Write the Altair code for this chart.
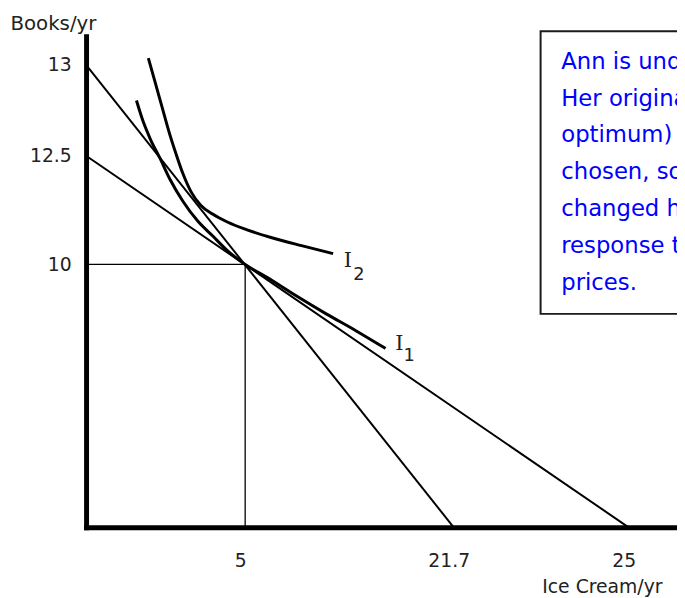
import altair as alt
import pandas as pd

# ---- values (data units) ----
x_ticks = [5, 21.7, 25]
y_ticks = [10, 12.5, 13]

budget_a_x = [0, 21.7]
budget_a_y = [13, 0]
budget_b_x = [0, 25]
budget_b_y = [12.5, 0]

opt_x = 5
opt_y = 10

i1_x = [1.584, 1.801, 2.019, 2.329, 2.640, 3.043, 3.509, 3.975, 4.441, 5.0,
        6.741, 9.116, 11.490, 13.864, 16.239]
i1_y = [12.804, 12.685, 12.592, 12.432, 11.955, 11.455, 11.0, 10.659, 10.318, 10.0,
        9.511, 8.797, 8.120, 7.481, 6.805]

i2_x = [1.957, 2.174, 2.391, 2.609, 2.826, 3.043, 3.292, 3.602, 3.975, 4.441,
        5.158, 7.137, 9.511, 12.044]
i2_y = [13.038, 12.902, 12.766, 12.630, 12.511, 12.091, 11.682, 11.364, 11.159, 10.977,
        10.795, 10.614, 10.432, 10.25]

curve_names = ["I", "I"]
curve_subs = ["1", "2"]
name_x = [17.35, 13.23]
name_y = [6.99, 10.07]
sub_x = [18.14, 14.10]
sub_y = [6.50, 9.59]

note_lines = [
    "Ann is undoubtedly better off.",
    "Her original bundle (the old",
    "optimum) is no longer",
    "chosen, so she has",
    "changed her choice in",
    "response to the new",
    "prices.",
]
note_x = 23.73
note_y = 13.078
box_x = [23.34, 27.5]
box_y = [13.188, 8.12]

# ---- scales (schematic axis: piecewise linear) ----
xs = alt.Scale(domain=[0, 5, 21.7, 25, 27], range=[0, 161, 372, 549, 598], nice=False, zero=False)
ys = alt.Scale(domain=[0, 10, 12.5, 13, 13.16], range=[522, 256, 146, 54, 25], nice=False, zero=False)

FONT = "DejaVu Sans"

x_axis = alt.Axis(values=x_ticks, format=".1~f", grid=False, ticks=False, tickSize=0,
                  domainWidth=5, domainColor="black", domainCap="square",
                  labelFont=FONT, labelFontSize=19, labelColor="#222", labelPadding=25,
                  labelOffset=-5, title="Ice Cream/yr", titleFont=FONT, titleFontSize=19,
                  titleFontWeight="normal", titleColor="#222", titleX=522, titleY=60,
                  titleAlign="center", titleBaseline="middle")
y_axis = alt.Axis(values=y_ticks, format=".1~f", grid=False, ticks=False, tickSize=0,
                  domainWidth=5, domainColor="black", domainCap="square",
                  labelFont=FONT, labelFontSize=19, labelColor="#222", labelPadding=15,
                  title="Books/yr", titleFont=FONT, titleFontSize=20, titleFontWeight="normal",
                  titleColor="#222", titleAngle=0, titleX=-77, titleY=12,
                  titleAlign="left", titleBaseline="middle")

X = alt.X("x:Q", scale=xs, axis=x_axis)
Y = alt.Y("y:Q", scale=ys, axis=y_axis)

budget_df = pd.DataFrame({
    "x": budget_a_x + budget_b_x,
    "y": budget_a_y + budget_b_y,
    "line": ["a"] * len(budget_a_x) + ["b"] * len(budget_b_x),
})
ref_df = pd.DataFrame({
    "x": [0, opt_x, opt_x],
    "y": [opt_y, opt_y, 0],
    "order": [0, 1, 2],
})
curve_df = pd.DataFrame({
    "x": i1_x + i2_x,
    "y": i1_y + i2_y,
    "curve": ["I1"] * len(i1_x) + ["I2"] * len(i2_x),
})
name_df = pd.DataFrame({"x": name_x, "y": name_y, "t": curve_names})
sub_df = pd.DataFrame({"x": sub_x, "y": sub_y, "t": curve_subs})
note_df = pd.DataFrame({"x": [note_x], "y": [note_y], "t": ["\n".join(note_lines)]})
box_df = pd.DataFrame({"x": [box_x[0]], "x2": [box_x[1]], "y": [box_y[0]], "y2": [box_y[1]]})

budget = alt.Chart(budget_df).mark_line(color="black", strokeWidth=2).encode(
    x=X, y=Y, detail="line:N",
)
refl = alt.Chart(ref_df).mark_line(color="black", strokeWidth=1.3).encode(
    x=X, y=Y, order="order:Q",
)
curves = alt.Chart(curve_df).mark_line(color="black", strokeWidth=3, interpolate="monotone").encode(
    x=X, y=Y, detail="curve:N",
)
names = alt.Chart(name_df).mark_text(font="DejaVu Serif", fontSize=21, color="#222",
                                     align="center", baseline="middle").encode(
    x=X, y=Y, text="t:N")
subs = alt.Chart(sub_df).mark_text(font=FONT, fontSize=18, color="#222",
                                   align="center", baseline="middle").encode(
    x=X, y=Y, text="t:N")
box = alt.Chart(box_df).mark_rect(fill="white", stroke="#1a1a1a", strokeWidth=2).encode(
    x=X, x2="x2:Q", y=Y, y2="y2:Q")
note = alt.Chart(note_df).mark_text(font=FONT, fontSize=23, color="#0000FF", align="left",
                                    baseline="top", lineBreak="\n", lineHeight=37.3).encode(
    x=X, y=Y, text="t:N")

chart = alt.layer(budget, refl, curves, names, subs, box, note).properties(
    width=598, height=522,
    padding={"left": 79, "top": 0, "right": 0, "bottom": 68},
    background="white",
    autosize=alt.AutoSizeParams(type="none"),
).configure_view(stroke=None)

chart.save("out.html", embed_options={"renderer": "svg", "actions": False})
